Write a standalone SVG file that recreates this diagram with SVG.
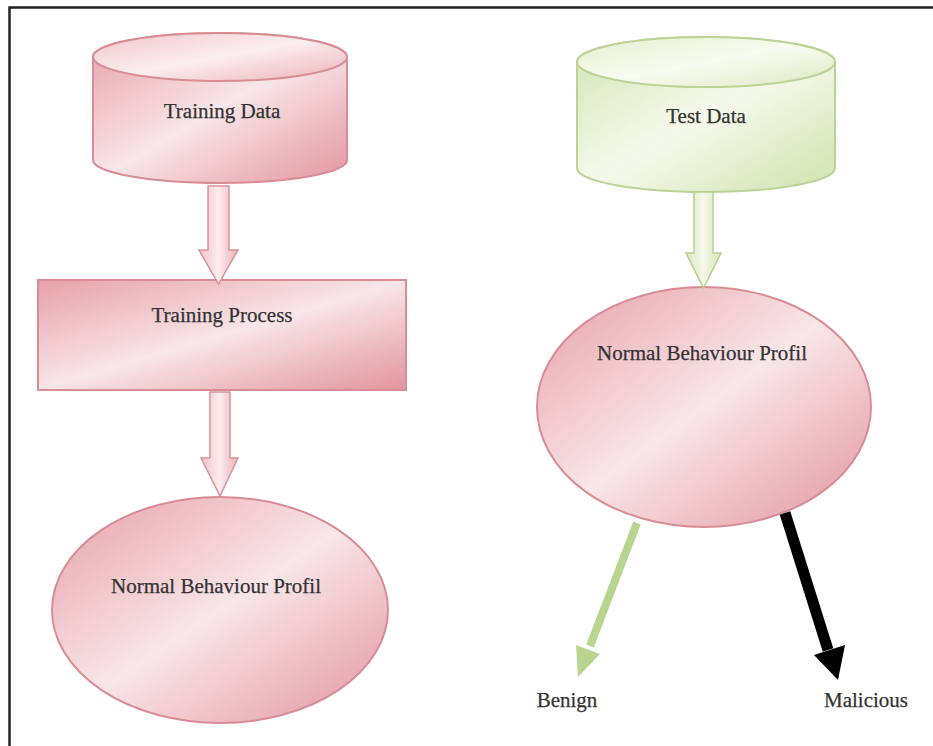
<svg xmlns="http://www.w3.org/2000/svg" width="933" height="746" viewBox="0 0 933 746">
<defs>
<linearGradient id="pink" x1="0" y1="0" x2="1" y2="1">
<stop offset="0" stop-color="#e7a0a8"/>
<stop offset="0.5" stop-color="#f8e6e8"/>
<stop offset="1" stop-color="#e2949d"/>
</linearGradient>
<linearGradient id="pinkTop" x1="0" y1="0" x2="1" y2="1">
<stop offset="0" stop-color="#f1c6cb"/>
<stop offset="0.5" stop-color="#fbeeef"/>
<stop offset="1" stop-color="#ecb1b8"/>
</linearGradient>
<linearGradient id="green" x1="0" y1="0" x2="1" y2="1">
<stop offset="0" stop-color="#d3e5b3"/>
<stop offset="0.5" stop-color="#f5f9ec"/>
<stop offset="1" stop-color="#cfe2ad"/>
</linearGradient>
<linearGradient id="greenTop" x1="0" y1="0" x2="1" y2="1">
<stop offset="0" stop-color="#e3efcd"/>
<stop offset="0.5" stop-color="#f8fbf1"/>
<stop offset="1" stop-color="#dce9c3"/>
</linearGradient>
<linearGradient id="pinkArrow" x1="0" y1="0" x2="1" y2="0">
<stop offset="0" stop-color="#f0c2c7"/>
<stop offset="0.5" stop-color="#fbecee"/>
<stop offset="1" stop-color="#eab0b6"/>
</linearGradient>
<linearGradient id="greenArrow" x1="0" y1="0" x2="1" y2="0">
<stop offset="0" stop-color="#dbe9c2"/>
<stop offset="0.5" stop-color="#f4f8ea"/>
<stop offset="1" stop-color="#d5e5b8"/>
</linearGradient>
</defs>
<style>
.pk{fill:url(#pink);stroke:#d98c95;stroke-width:2}
.pkt{fill:url(#pinkTop);stroke:#d98c95;stroke-width:2}
.gr{fill:url(#green);stroke:#bcd395;stroke-width:2}
.grt{fill:url(#greenTop);stroke:#bcd395;stroke-width:2}
.pa{fill:url(#pinkArrow);stroke:#d9939b;stroke-width:1.5}
.ga{fill:url(#greenArrow);stroke:#b9d08e;stroke-width:1.5}
.lbl{font-family:"Liberation Serif","Times New Roman",serif;font-size:21px;fill:#333333;stroke:#333333;stroke-width:0.25;text-anchor:middle}
</style>
<rect width="933" height="746" fill="#ffffff"/>
<path d="M9.5,746 L9.5,7.5 L933,7.5" fill="none" stroke="#222" stroke-width="2.5"/>

<g id="training-data">
<path class="pk" d="M93,57 L93,160 A127,23 0 0 0 347,160 L347,57 A127,24 0 0 0 93,57 Z"/>
<ellipse class="pkt" cx="220" cy="57" rx="127" ry="24"/>
<text class="lbl" x="222" y="118">Training Data</text>
</g>

<g id="training-process">
<rect class="pk" x="38" y="280" width="368" height="110"/>
<text class="lbl" x="222" y="322">Training Process</text>
</g>

<g id="profile-left">
<ellipse class="pk" cx="220" cy="610" rx="168" ry="113"/>
<text class="lbl" x="216" y="593">Normal Behaviour Profil</text>
</g>

<g id="test-data">
<path class="gr" d="M577,62 L577,168 A129,24 0 0 0 835,168 L835,62 A129,25 0 0 0 577,62 Z"/>
<ellipse class="grt" cx="706" cy="62" rx="129" ry="25"/>
<text class="lbl" x="706" y="123">Test Data</text>
</g>

<g id="profile-right">
<ellipse class="pk" cx="704" cy="407" rx="167" ry="120"/>
<text class="lbl" x="702" y="360">Normal Behaviour Profil</text>
</g>

<g id="label-benign">
<text class="lbl" x="567" y="707">Benign</text>
</g>
<g id="label-malicious">
<text class="lbl" x="866" y="707">Malicious</text>
</g>

<g id="connectors">
<polygon class="pa" points="208,186 229,186 229,250 238,250 218.5,284 199,250 208,250"/>
<polygon class="pa" points="210,392 230,392 230,458 238,458 220,496 201,458 210,458"/>
<polygon class="ga" points="694,192 713,192 713,253 721,253 703.5,288 686,253 694,253"/>
<line x1="637" y1="523" x2="590" y2="646" stroke="#b7d58f" stroke-width="8"/>
<polygon points="578,677 576,645 600,654" fill="#b7d58f"/>
<line x1="785" y1="513" x2="828" y2="650" stroke="#000" stroke-width="11"/>
<polygon points="838,680 814,655 845,645" fill="#000"/>
</g>
</svg>
